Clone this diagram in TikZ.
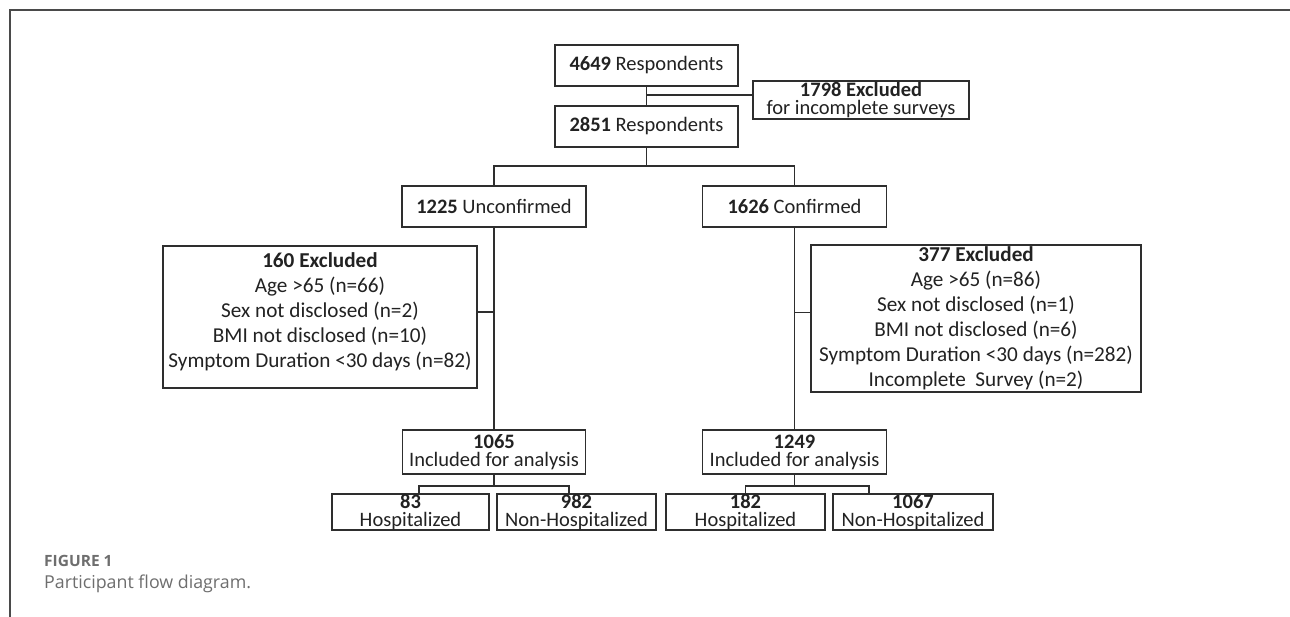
\documentclass[tikz,border=0pt]{standalone}
\usepackage{fontspec}
\setmainfont{Carlito}
\newfontfamily\capfont{Open Sans}
\definecolor{ink}{HTML}{222222}
\definecolor{edge}{HTML}{2E2E2E}
\definecolor{capgray}{HTML}{6E6E6E}
\definecolor{framegray}{HTML}{4A4A4A}
\begin{document}
\begin{tikzpicture}[x=1pt,y=-1pt,
  box/.style={draw=edge, line width=1.6pt, inner sep=0pt, align=center, text=ink,
    font=\fontsize{20.5}{18}\selectfont},
  exbox/.style={box, font=\fontsize{21.2}{25}\selectfont},
  conn/.style={draw=edge, line width=1.6pt}]
\useasboundingbox (0,0) rectangle (1290,617);
\fill[white] (0,0) rectangle (1290,617);
% frame
\draw[framegray, line width=1.8pt] (10,617) -- (10,10) -- (1290,10);

% boxes
\node[box, minimum width=183pt, minimum height=41pt] (n4649) at (646.5,65.5) {\textbf{4649} Respondents};
\node[box, minimum width=216pt, minimum height=38pt] (n1798) at (861,100) {\textbf{1798 Excluded}\\for incomplete surveys};
\node[box, minimum width=183pt, minimum height=41pt] (n2851) at (646.5,126.5) {\textbf{2851} Respondents};
\node[box, minimum width=184pt, minimum height=41pt] (n1225) at (494,206.5) {\textbf{1225} Unconfirmed};
\node[box, minimum width=184pt, minimum height=41pt] (n1626) at (794.5,206.5) {\textbf{1626} Confirmed};
\node[exbox, minimum width=314pt, minimum height=142pt] (n160) at (320,317)
  {\textbf{160 Excluded}\\Age >65 (n=66)\\Sex not disclosed (n=2)\\BMI not disclosed (n=10)\\Symptom Duration <30 days (n=82)\\[-11pt]};
\node[exbox, minimum width=330pt, minimum height=147pt] (n377) at (976,318.5)
  {\textbf{377 Excluded}\\Age >65 (n=86)\\Sex not disclosed (n=1)\\BMI not disclosed (n=6)\\Symptom Duration <30 days (n=282)\\Incomplete\ \ Survey (n=2)};
\node[box, minimum width=183pt, minimum height=44pt] (n1065) at (494,452) {\textbf{1065}\\Included for analysis};
\node[box, minimum width=184pt, minimum height=44pt] (n1249) at (794.5,452) {\textbf{1249}\\Included for analysis};
\node[box, minimum width=157pt, minimum height=36pt] (n83) at (410.5,512) {\textbf{83}\\Hospitalized};
\node[box, minimum width=159pt, minimum height=36pt] (n982) at (576.5,512) {\textbf{982}\\Non-Hospitalized};
\node[box, minimum width=159pt, minimum height=36pt] (n182) at (745.5,512) {\textbf{182}\\Hospitalized};
\node[box, minimum width=160pt, minimum height=36pt] (n1067) at (913,512) {\textbf{1067}\\Non-Hospitalized};

% connectors
\draw[conn] (n4649) -- (n2851);
\draw[conn] ([yshift=5pt]n1798.west) -- ([yshift=5pt]n1798.west -| n4649.south);
\draw[conn] (n2851.south) -- ++(0,18.5) coordinate (split);
\draw[conn] (n1225.north) |- (split) -| (n1626.north);
\draw[conn] (n1225) -- (n1065);
\draw[conn] (n1626) -- (n1249);
\draw[conn] ([yshift=5pt]n160.east) -- ([yshift=5pt]n160.east -| n1225.south);
\draw[conn] ([yshift=6pt]n377.west) -- ([yshift=6pt]n377.west -| n1626.south);
\draw[conn] (n1065.south) -- ++(0,11) coordinate (s1);
\draw[conn] ([xshift=8.5pt]n83.north) |- (s1) -| ([xshift=-7.5pt]n982.north);
\draw[conn] (n1249.south) -- ++(0,11) coordinate (s2);
\draw[conn] (n182.north) |- (s2) -| ([xshift=-44pt]n1067.north);

% caption
\node[anchor=west, inner sep=0pt, text=capgray, font=\capfont\bfseries\fontsize{15.5}{17}\selectfont] (figlabel) at (44,561) {FIGURE 1};
\node[anchor=west, inner sep=0pt, text=capgray, font=\capfont\fontsize{17.8}{20}\selectfont] (figcap) at (44,584) {Participant flow diagram.};
\end{tikzpicture}
\end{document}
